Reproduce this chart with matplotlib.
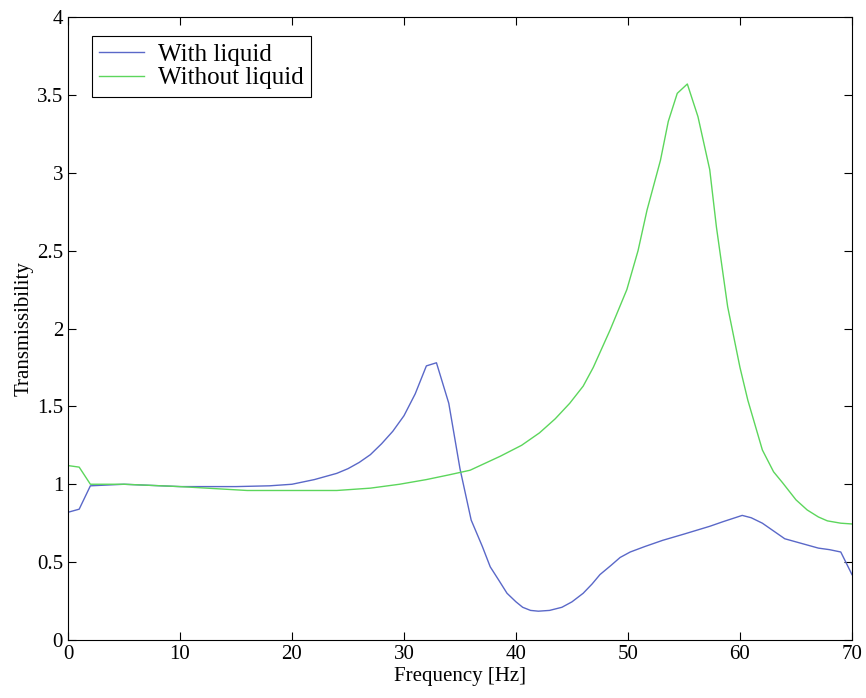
import numpy as np
import matplotlib
matplotlib.use("Agg")
import matplotlib.pyplot as plt

# Transmissibility
freq_with = [0, 1, 2, 5, 10, 15, 18, 20, 22, 24, 25, 26, 27, 28, 29, 30, 31, 32, 32.9,
             34, 35, 36, 37, 37.7, 38.5, 39.2, 40, 40.6, 41.3, 42, 43, 44.1, 45, 46,
             46.8, 47.5, 48.5, 49.3, 50.2, 51.5, 53.1, 55, 57.3, 58.5, 60.2, 61, 62,
             63, 64, 65, 66, 67, 68, 69, 70]
trans_with = [0.82, 0.84, 0.99, 1.0, 0.985, 0.985, 0.99, 1.0, 1.03, 1.07, 1.10, 1.14,
              1.19, 1.26, 1.34, 1.44, 1.58, 1.76, 1.78, 1.52, 1.1, 0.77, 0.6, 0.47,
              0.38, 0.30, 0.245, 0.21, 0.19, 0.185, 0.19, 0.21, 0.245, 0.30, 0.36,
              0.42, 0.48, 0.53, 0.565, 0.60, 0.64, 0.68, 0.73, 0.76, 0.80, 0.785,
              0.75, 0.7, 0.65, 0.63, 0.61, 0.59, 0.58, 0.565, 0.42]

freq_without = [0, 1, 2, 5, 10, 16, 20, 24, 27, 29.6, 32, 34, 35.9, 38.6, 40.5, 42.1,
                43.5, 44.8, 46, 46.9, 48.4, 49.9, 50.9, 51.7, 52.9, 53.6, 54.4, 55.3,
                56.25, 57.3, 57.9, 58.9, 60, 60.7, 62, 63, 63.8, 65, 66, 67, 67.8, 69, 70]
trans_without = [1.12, 1.11, 1.0, 1.0, 0.985, 0.96, 0.96, 0.96, 0.975, 1.0, 1.03,
                 1.06, 1.09, 1.18, 1.25, 1.33, 1.42, 1.52, 1.63, 1.75, 1.99, 2.25,
                 2.50, 2.76, 3.08, 3.33, 3.51, 3.57, 3.36, 3.02, 2.65, 2.14, 1.75,
                 1.54, 1.22, 1.08, 1.01, 0.9, 0.835, 0.79, 0.765, 0.75, 0.745]

plt.rcParams["font.family"] = ["Liberation Serif", "DejaVu Serif"]

fig = plt.figure(figsize=(8.66, 6.98), dpi=100, facecolor="white")
ax = fig.add_axes([0.0785, 0.0831, 0.9053, 0.8925])

ax.plot(freq_with, trans_with, color="#5a68c8", linewidth=1.0, label="With liquid")
ax.plot(freq_without, trans_without, color="#5cd65c", linewidth=1.0, label="Without liquid")

ax.set_xlim(0, 70)
ax.set_ylim(0, 4)
ax.set_xticks(np.arange(0, 71, 10))
ax.set_yticks(np.arange(0, 4.01, 0.5))
ax.set_yticklabels(["0", "0.5", "1", "1.5", "2", "2.5", "3", "3.5", "4"])
ax.tick_params(direction="in", top=True, right=True, labelsize=15, length=6)
ax.set_xlabel("Frequency [Hz]", fontsize=15, labelpad=2)
ax.set_ylabel("Transmissibility", fontsize=15, labelpad=2)

leg = ax.legend(loc="upper left", fontsize=18, fancybox=False, edgecolor="black",
                framealpha=1, handlelength=1.8, handletextpad=0.55, borderpad=0.3,
                labelspacing=0.05, borderaxespad=0, bbox_to_anchor=(0.03, 0.97))
leg.get_frame().set_linewidth(0.8)

plt.savefig("out.png", dpi=100, facecolor="white")
plt.close()
